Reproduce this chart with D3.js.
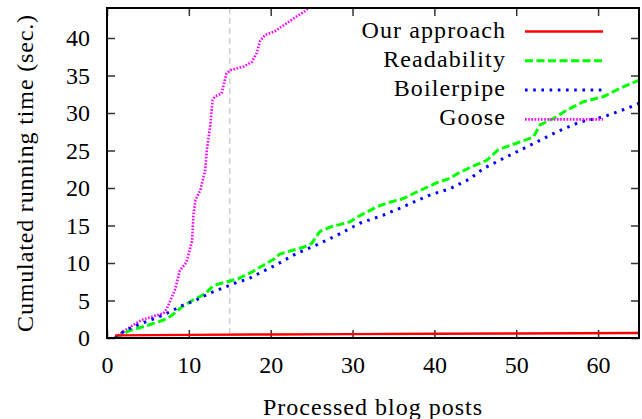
<!DOCTYPE html>
<html>
<head>
<meta charset="utf-8">
<script src="https://cdn.jsdelivr.net/npm/d3@7"></script>
<style>
    body { margin: 0; background: #fff; }
    #chart-area { width: 642px; height: 419px; }
</style>
</head>
<body>
<div id="chart-area"></div>
<script>
// points: [blog posts processed, cumulated seconds]
const ourApproach = [[1, 0.35], [10, 0.42], [20, 0.47], [30, 0.52], [40, 0.56], [50, 0.6], [65, 0.67]];

const readability = [[1, 0], [2.8, 1.0], [5, 1.7], [6.9, 2.4], [7.9, 3.0], [9.1, 4.1], [10.4, 5.0],
    [12, 5.9], [13, 7.0], [15, 7.6], [16, 7.9], [17.7, 8.8], [19.1, 9.7], [20.5, 10.6], [21.1, 11.2],
    [24, 12.1], [25, 12.6], [26, 14.2], [27.3, 14.8], [29.7, 15.5], [30.7, 16.2], [33, 17.5],
    [34.2, 18.0], [36.2, 18.6], [37.9, 19.5], [38.7, 19.9], [40.3, 20.7], [41.9, 21.3], [42.8, 21.9],
    [44.3, 22.7], [46.4, 23.7], [47.8, 25.1], [50.1, 26.0], [52.1, 26.8], [52.9, 28.4], [54.6, 29.3],
    [56.2, 30.4], [58.2, 31.5], [60.7, 32.2], [62.7, 33.3], [65, 34.4]];

const boilerpipe = [[1, 0], [1.6, 0.6], [3.2, 1.5], [4.6, 2.1], [6.3, 2.8], [7.9, 3.6], [9.3, 4.4],
    [10.8, 5.0], [12.4, 5.9], [14, 6.6], [15.6, 7.3], [17.3, 7.9], [18.9, 8.8], [20.4, 9.6],
    [23.2, 11.3], [25.6, 12.4], [28.1, 13.7], [30.9, 15.3], [33.8, 16.4], [36.2, 17.5], [39.5, 19.1],
    [41.9, 19.9], [44.3, 21.2], [46, 22.6], [48.9, 24.2], [51.7, 25.7], [55, 27.5], [57.8, 28.8],
    [60.7, 29.5], [63.5, 30.6], [65, 31.3]];

const goose = [[1, 0.1], [2.6, 1.3], [4.2, 2.4], [6.9, 3.3], [7.3, 3.9], [8.3, 6.4], [8.9, 9.0],
    [9.7, 10.1], [10.1, 11.7], [10.4, 13.0], [10.55, 16.2], [10.8, 18.4], [11.4, 19.7], [12, 22.4],
    [12.2, 25.1], [12.6, 28.2], [12.9, 31.7], [13.2, 32.2], [14, 32.6], [14.6, 35.3], [15.1, 35.7],
    [16.7, 36.2], [17.7, 36.8], [18.3, 38.0], [18.7, 39.6], [19.3, 40.4], [20.5, 40.9], [22, 42.0],
    [23.2, 42.9], [24.1, 43.5], [25, 44.4]];

const xTicks = [0, 10, 20, 30, 40, 50, 60];
const yTicks = [0, 5, 10, 15, 20, 25, 30, 35, 40];
const markerX = 15;

const seriesNames = ["Our approach", "Readability", "Boilerpipe", "Goose"];
const seriesData = [ourApproach, readability, boilerpipe, goose];
const seriesColors = ["#ff0000", "#00ff00", "#0000ff", "#ff00ff"];
const seriesDash = [null, "8,3.5", "2.6,5.6", "1.6,1.6"];
const seriesWidth = [2.4, 3, 3, 2.6];

const FONT = "Liberation Serif";

class RunTimeChart {
    constructor(parentElement) {
        this.parentElement = parentElement;
        this.initVis();
    }

    initVis() {
        let vis = this;

        vis.margin = { top: 8, right: 3, bottom: 81, left: 107 };
        vis.width = 642 - vis.margin.left - vis.margin.right;
        vis.height = 419 - vis.margin.top - vis.margin.bottom;

        vis.root = d3.select("#" + vis.parentElement).append("svg")
            .attr("width", 642)
            .attr("height", 419)
            .attr("font-family", FONT);

        vis.svg = vis.root.append("g")
            .attr("transform", `translate(${vis.margin.left}, ${vis.margin.top})`);

        vis.x = d3.scaleLinear().domain([0, 65]).range([0, vis.width]);
        vis.y = d3.scaleLinear().domain([0, 44]).range([vis.height, 0]);

        vis.svg.append("clipPath").attr("id", "plot-clip")
            .append("rect")
            .attr("width", vis.width)
            .attr("height", vis.height);

        // grey dashed marker
        vis.svg.append("line")
            .attr("x1", vis.x(markerX)).attr("x2", vis.x(markerX))
            .attr("y1", 0).attr("y2", vis.height)
            .attr("stroke", "#c8c8c8")
            .attr("stroke-width", 1.3)
            .attr("stroke-dasharray", "6,4");

        // ticks pointing inwards on all four sides, gnuplot style
        let tickLen = 8;
        vis.svg.append("g")
            .attr("class", "axis")
            .attr("transform", `translate(0, ${vis.height})`)
            .call(d3.axisBottom(vis.x).tickValues(xTicks).tickSize(-tickLen).tickPadding(18));
        vis.svg.append("g")
            .attr("class", "axis")
            .call(d3.axisTop(vis.x).tickValues(xTicks).tickSize(-tickLen).tickFormat(""));
        vis.svg.append("g")
            .attr("class", "axis")
            .call(d3.axisLeft(vis.y).tickValues(yTicks).tickSize(-tickLen).tickPadding(17));
        vis.svg.append("g")
            .attr("class", "axis")
            .attr("transform", `translate(${vis.width}, 0)`)
            .call(d3.axisRight(vis.y).tickValues(yTicks).tickSize(-tickLen).tickFormat(""));

        vis.svg.selectAll(".axis")
            .attr("font-family", FONT)
            .attr("font-size", 24);
        vis.svg.selectAll(".axis .domain").remove();
        vis.svg.selectAll(".tick line").attr("stroke", "#333").attr("stroke-width", 1.5);
        vis.svg.selectAll(".tick text").attr("fill", "#000");

        vis.line = d3.line()
            .x(d => vis.x(d[0]))
            .y(d => vis.y(d[1]));

        let plot = vis.svg.append("g").attr("clip-path", "url(#plot-clip)");

        // draw Goose first so the others sit on top of it
        [3, 1, 2, 0].forEach(i => {
            plot.append("path")
                .datum(seriesData[i])
                .attr("fill", "none")
                .attr("stroke", seriesColors[i])
                .attr("stroke-width", seriesWidth[i])
                .attr("stroke-dasharray", seriesDash[i])
                .attr("d", vis.line);
        });

        // frame
        vis.svg.append("rect")
            .attr("width", vis.width)
            .attr("height", vis.height)
            .attr("fill", "none")
            .attr("stroke", "#000")
            .attr("stroke-width", 2);

        // legend
        let legend = vis.root.append("g");
        seriesNames.forEach((name, i) => {
            let ly = 31.5 + i * 29.3;
            legend.append("text")
                .attr("x", 506)
                .attr("y", ly + 6)
                .attr("text-anchor", "end")
                .attr("font-size", 24)
                .attr("letter-spacing", 1.1)
                .text(name);
            legend.append("line")
                .attr("x1", 525).attr("x2", 603)
                .attr("y1", ly).attr("y2", ly)
                .attr("stroke", seriesColors[i])
                .attr("stroke-width", seriesWidth[i])
                .attr("stroke-dasharray", seriesDash[i]);
        });

        // axis titles
        vis.root.append("text")
            .attr("transform", "translate(33, 173) rotate(-90)")
            .attr("text-anchor", "middle")
            .attr("font-size", 24)
            .attr("letter-spacing", 0.85)
            .text("Cumulated running time (sec.)");

        vis.root.append("text")
            .attr("x", 373)
            .attr("y", 415)
            .attr("text-anchor", "middle")
            .attr("font-size", 24)
            .attr("letter-spacing", 1)
            .text("Processed blog posts");
    }
}

new RunTimeChart("chart-area");
</script>
</body>
</html>
